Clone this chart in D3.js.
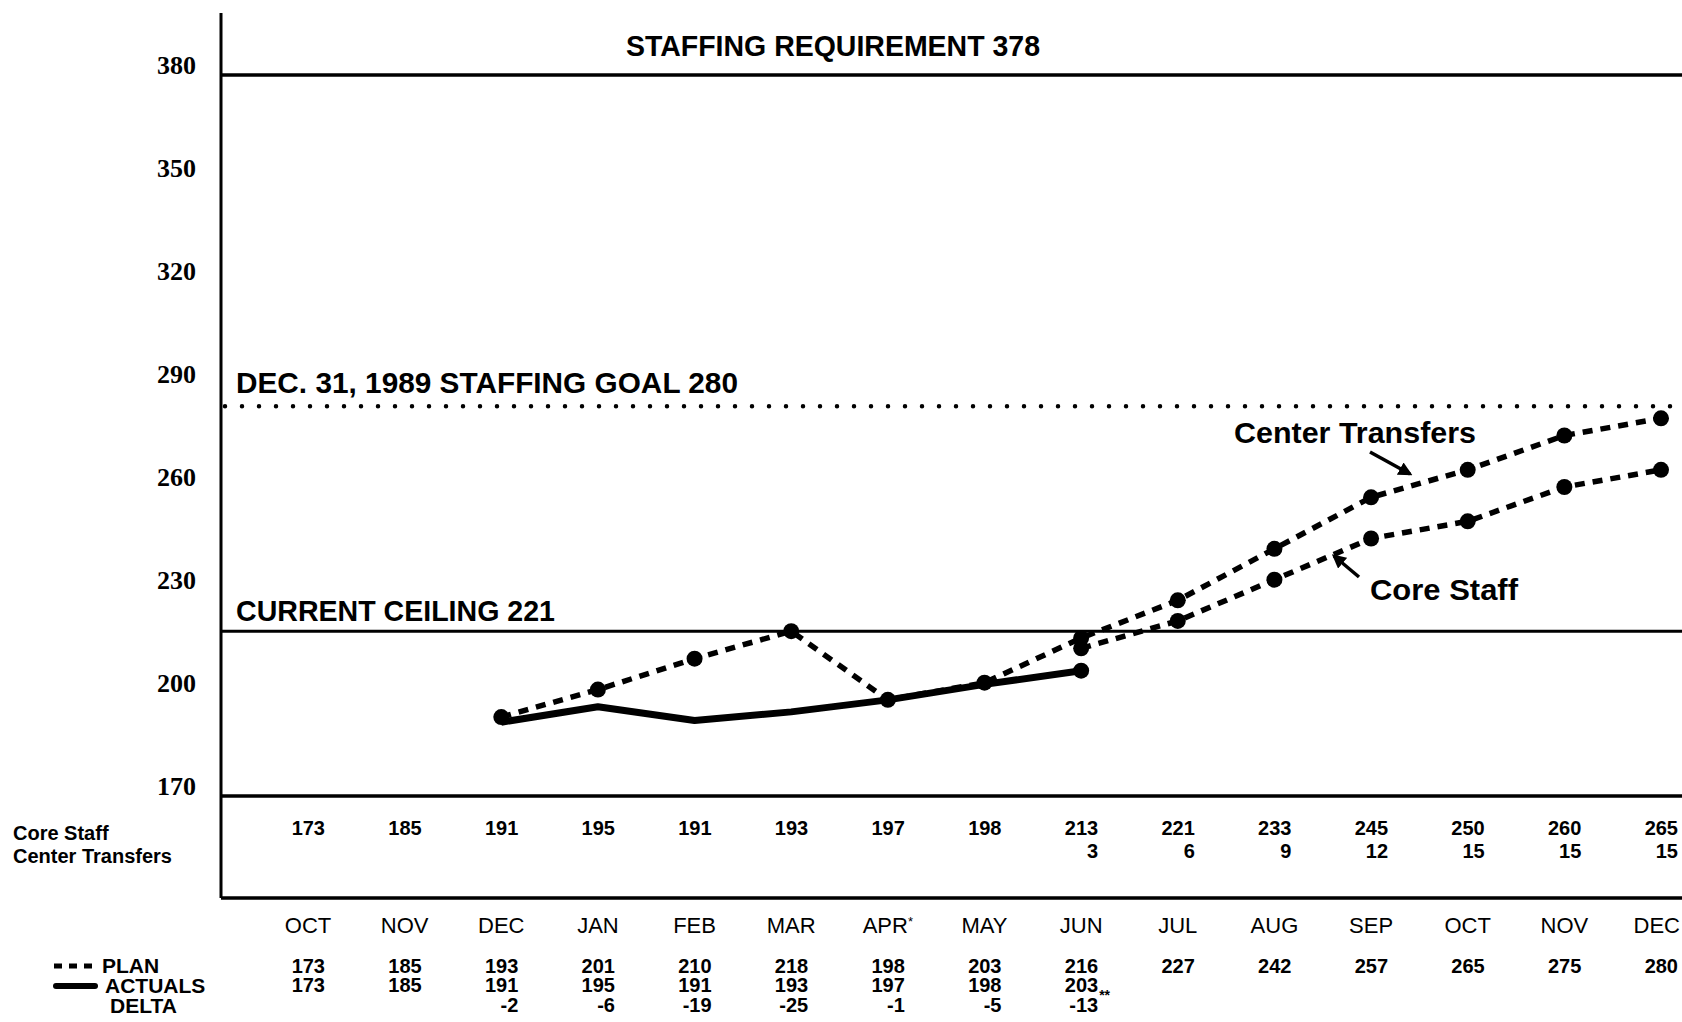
<!DOCTYPE html>
<html>
<head>
<meta charset="utf-8">
<script src="https://cdn.jsdelivr.net/npm/d3@7"></script>
<style>
  html, body { margin: 0; padding: 0; background: #fff; }
  svg text { fill: #000; }
  .sans { font-family: "Liberation Sans", Arial, sans-serif; }
  .serif { font-family: "Liberation Serif", "Times New Roman", serif; }
</style>
</head>
<body>
<div id="container"></div>
<script>
// month columns along the bottom
var months = ["OCT", "NOV", "DEC", "JAN", "FEB", "MAR", "APR", "MAY", "JUN", "JUL", "AUG", "SEP", "OCT", "NOV", "DEC"];
var monthMarks = ["", "", "", "", "", "", "*", "", "", "", "", "", "", "", ""];
var yTicks = [170, 200, 230, 260, 290, 320, 350, 380];

// table rows
var coreStaff = [173, 185, 191, 195, 191, 193, 197, 198, 213, 221, 233, 245, 250, 260, 265];
var centerTransfers = [null, null, null, null, null, null, null, null, 3, 6, 9, 12, 15, 15, 15];
var planRow = [173, 185, 193, 201, 210, 218, 198, 203, 216, 227, 242, 257, 265, 275, 280];
var actualRow = [173, 185, 191, 195, 191, 193, 197, 198, 203, null, null, null, null, null, null];
var deltaRow = [null, null, -2, -6, -19, -25, -1, -5, -13, null, null, null, null, null, null];
var deltaMarks = ["", "", "", "", "", "", "", "", "**", "", "", "", "", "", ""];

// plotted lines (month index, value)
var planLine = [[2, 193], [3, 201], [4, 210], [5, 218], [6, 198], [7, 203], [8, 216],
                [9, 227], [10, 242], [11, 257], [12, 265], [13, 275], [14, 280]];
var coreLine = [[8, 213], [9, 221], [10, 233], [11, 245], [12, 250], [13, 260], [14, 265]];
var actualLine = [[2, 191.5], [3, 196], [4, 192], [5, 194.5], [6, 198], [7, 202.5], [8, 206.5]];

// reference lines: value where drawn, label text
var requirement = { value: 380, label: "STAFFING REQUIREMENT 378" };
var goal = { value: 283.5, label: "DEC. 31, 1989 STAFFING GOAL 280" };
var ceiling = { value: 218, label: "CURRENT CEILING 221" };

var W = 1682, H = 1022;
var axisX = 221, right = 1682;

var svg = d3.select("div#container")
    .append("svg")
    .attr("width", W)
    .attr("height", H)
    .attr("viewBox", "0 0 " + W + " " + H);

var x = d3.scalePoint()
    .domain(d3.range(months.length))
    .range([308, 1661]);

var y = d3.scaleLinear()
    .domain([170, 380])
    .range([796, 75]);

// y tick labels (no tick marks)
var yAxis = svg.append("g")
    .attr("transform", "translate(" + axisX + ",0)")
    .call(d3.axisLeft(y).tickValues(yTicks).tickSize(0).tickPadding(25).tickFormat(d3.format("d")));
yAxis.select(".domain").remove();
yAxis.selectAll("text")
    .attr("class", "serif")
    .attr("dy", "-0.05em")
    .style("font-size", "26px")
    .style("font-weight", "bold")
    .style("fill", "#000");

// frame lines
svg.append("line")
    .attr("x1", axisX).attr("x2", axisX)
    .attr("y1", 13).attr("y2", 898)
    .attr("stroke", "#000").attr("stroke-width", 3);

svg.append("line")
    .attr("x1", axisX).attr("x2", right)
    .attr("y1", y(requirement.value)).attr("y2", y(requirement.value))
    .attr("stroke", "#000").attr("stroke-width", 3.5);

svg.append("line")
    .attr("x1", axisX).attr("x2", right)
    .attr("y1", y(170)).attr("y2", y(170))
    .attr("stroke", "#000").attr("stroke-width", 3.5);

svg.append("line")
    .attr("x1", axisX).attr("x2", right)
    .attr("y1", 898).attr("y2", 898)
    .attr("stroke", "#000").attr("stroke-width", 3.5);

svg.append("line")
    .attr("x1", axisX).attr("x2", right)
    .attr("y1", y(ceiling.value)).attr("y2", y(ceiling.value))
    .attr("stroke", "#000").attr("stroke-width", 3);

svg.append("line")
    .attr("x1", axisX + 4).attr("x2", right)
    .attr("y1", y(goal.value)).attr("y2", y(goal.value))
    .attr("stroke", "#000").attr("stroke-width", 4.5)
    .attr("stroke-linecap", "round")
    .attr("stroke-dasharray", "0 17");

// reference labels
function bigLabel(txt, lx, ly, len, size) {
    svg.append("text")
        .attr("class", "sans")
        .attr("x", lx).attr("y", ly)
        .attr("textLength", len)
        .attr("lengthAdjust", "spacingAndGlyphs")
        .style("font-size", size + "px")
        .style("font-weight", "bold")
        .text(txt);
}
bigLabel(requirement.label, 626, y(requirement.value) - 19, 414, 30);
bigLabel(goal.label, 236, y(goal.value) - 13, 502, 30);
bigLabel(ceiling.label, 236, y(ceiling.value) - 10, 319, 30);
bigLabel("Center Transfers", 1234, 443, 242, 30);
bigLabel("Core Staff", 1370, 600, 148, 30);

// arrows
var defs = svg.append("defs");
defs.append("marker")
    .attr("id", "arrow")
    .attr("viewBox", "0 0 10 10")
    .attr("refX", 8).attr("refY", 5)
    .attr("markerWidth", 4).attr("markerHeight", 4)
    .attr("orient", "auto")
    .append("path")
    .attr("d", "M0,0 L10,5 L0,10 z")
    .attr("fill", "#000");

svg.append("line")
    .attr("x1", 1370).attr("y1", 452)
    .attr("x2", 1410).attr("y2", 474)
    .attr("stroke", "#000").attr("stroke-width", 3.5)
    .attr("marker-end", "url(#arrow)");

svg.append("line")
    .attr("x1", 1359).attr("y1", 577)
    .attr("x2", 1334).attr("y2", 556)
    .attr("stroke", "#000").attr("stroke-width", 3.5)
    .attr("marker-end", "url(#arrow)");

// data lines
var line = d3.line()
    .x(function (d) { return x(d[0]); })
    .y(function (d) { return y(d[1]); });

svg.append("path")
    .datum(actualLine)
    .attr("d", line)
    .attr("fill", "none")
    .attr("stroke", "#000")
    .attr("stroke-width", 7)
    .attr("stroke-linejoin", "round");

svg.append("path")
    .datum(planLine)
    .attr("d", line)
    .attr("fill", "none")
    .attr("stroke", "#000")
    .attr("stroke-width", 5.5)
    .attr("stroke-dasharray", "10 8");

svg.append("path")
    .datum(coreLine)
    .attr("d", line)
    .attr("fill", "none")
    .attr("stroke", "#000")
    .attr("stroke-width", 5.5)
    .attr("stroke-dasharray", "10 8");

var dotData = planLine.concat(coreLine).concat([actualLine[actualLine.length - 1]]);
svg.selectAll("circle.pt")
    .data(dotData)
    .enter()
    .append("circle")
    .attr("class", "pt")
    .attr("cx", function (d) { return x(d[0]); })
    .attr("cy", function (d) { return y(d[1]); })
    .attr("r", 8)
    .attr("fill", "#000");

// table: core staff / center transfers
svg.append("text").attr("class", "sans")
    .attr("x", 13).attr("y", 840)
    .style("font-size", "20px").style("font-weight", "bold")
    .text("Core Staff");
svg.append("text").attr("class", "sans")
    .attr("x", 13).attr("y", 863)
    .style("font-size", "20px").style("font-weight", "bold")
    .text("Center Transfers");

function numberRow(values, rowY, size) {
    svg.append("g")
        .selectAll("text")
        .data(values.map(function (v, i) { return { v: v, i: i }; }).filter(function (d) { return d.v !== null; }))
        .enter()
        .append("text")
        .attr("class", "sans")
        .attr("x", function (d) { return Math.min(x(d.i) + 17, W - 2); })
        .attr("y", rowY)
        .attr("text-anchor", "end")
        .style("font-size", size + "px")
        .style("font-weight", "bold")
        .text(function (d) { return d.v; });
}
numberRow(coreStaff, 835, 20);
numberRow(centerTransfers, 858, 20);

// month labels (last one pinned inside the right edge)
var last = months.length - 1;
var monthText = svg.append("g")
    .selectAll("text")
    .data(months)
    .enter()
    .append("text")
    .attr("class", "sans")
    .attr("x", function (d, i) { return i === last ? W - 2 : x(i); })
    .attr("y", 933)
    .attr("text-anchor", function (d, i) { return i === last ? "end" : "middle"; })
    .style("font-size", "22px");
monthText.append("tspan").text(function (d) { return d; });
monthText.append("tspan")
    .attr("dy", -7)
    .style("font-size", "13px")
    .text(function (d, i) { return monthMarks[i]; });

// plan / actuals / delta rows
numberRow(planRow, 973, 20);
numberRow(actualRow, 992, 20);

svg.append("g")
    .selectAll("text")
    .data(deltaRow.map(function (v, i) { return { v: v, i: i }; }).filter(function (d) { return d.v !== null; }))
    .enter()
    .append("text")
    .attr("class", "sans")
    .attr("x", function (d) { return x(d.i) + 17; })
    .attr("y", 1012)
    .attr("text-anchor", "end")
    .style("font-size", "20px")
    .style("font-weight", "bold")
    .text(function (d) { return d.v; });
svg.append("g")
    .selectAll("text")
    .data(deltaMarks.map(function (m, i) { return { m: m, i: i }; }).filter(function (d) { return d.m !== ""; }))
    .enter()
    .append("text")
    .attr("class", "sans")
    .attr("x", function (d) { return x(d.i) + 18; })
    .attr("y", 1000)
    .style("font-size", "14px")
    .style("font-weight", "bold")
    .text(function (d) { return d.m; });

// legend
svg.append("line")
    .attr("x1", 54).attr("x2", 98)
    .attr("y1", 966).attr("y2", 966)
    .attr("stroke", "#000").attr("stroke-width", 5)
    .attr("stroke-dasharray", "8 7");
svg.append("line")
    .attr("x1", 56).attr("x2", 95)
    .attr("y1", 986).attr("y2", 986)
    .attr("stroke", "#000").attr("stroke-width", 6)
    .attr("stroke-linecap", "round");

var legendItems = [["PLAN", 102, 973], ["ACTUALS", 105, 993], ["DELTA", 110, 1013]];
legendItems.forEach(function (d) {
    svg.append("text").attr("class", "sans")
        .attr("x", d[1]).attr("y", d[2])
        .style("font-size", "21px").style("font-weight", "bold")
        .text(d[0]);
});
</script>
</body>
</html>
